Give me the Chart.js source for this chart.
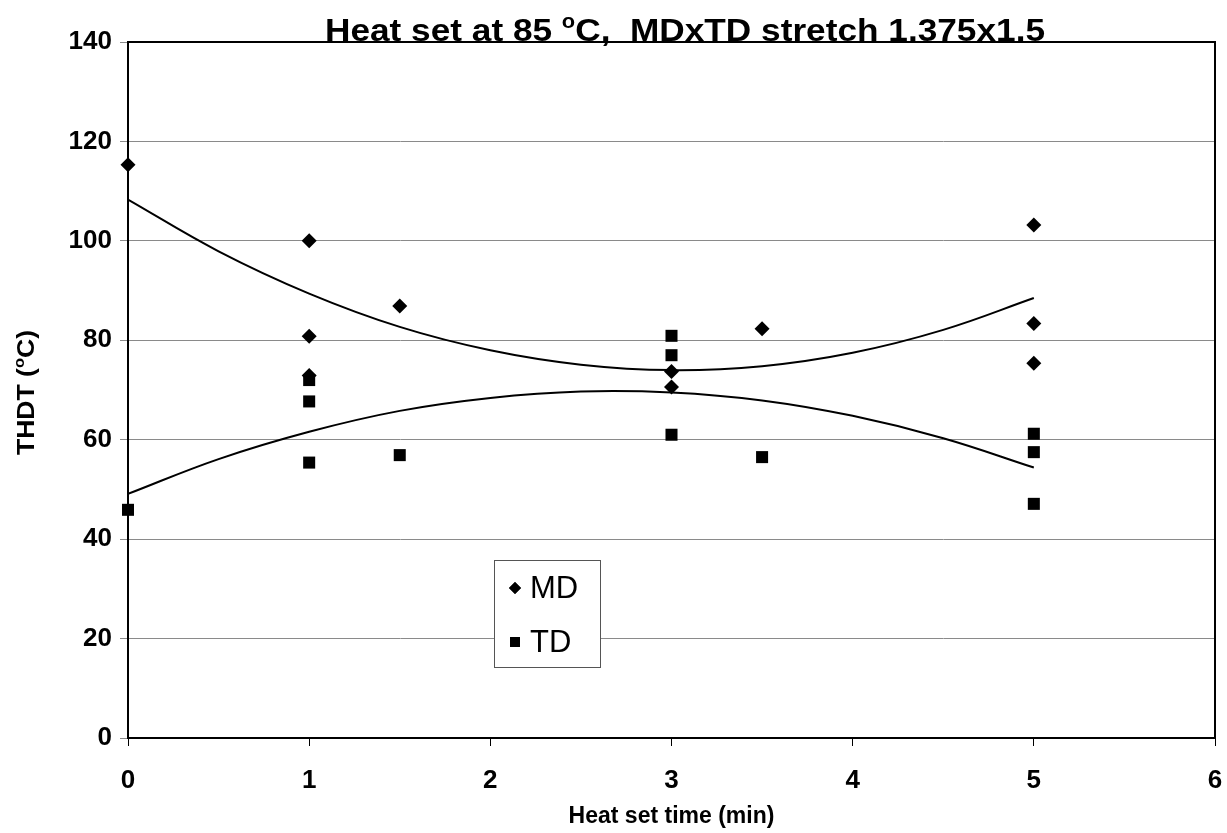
<!DOCTYPE html>
<html>
<head>
<meta charset="utf-8">
<script src="https://cdn.jsdelivr.net/npm/chart.js@4.4.1/dist/chart.umd.min.js"></script>
<style>
  body { margin: 0; background: #fff; }
  canvas { display: block; }
</style>
</head>
<body>
<canvas id="chart" width="1227" height="833"></canvas>
<script>
// measured points
const mdTime = [0, 1, 1, 1, 1.5, 3, 3, 3.5, 5, 5, 5];
const mdTHDT = [115.3, 100, 80.8, 72.9, 86.9, 73.7, 70.6, 82.3, 103.2, 83.4, 75.4];
const tdTime = [0, 1, 1, 1, 1.5, 3, 3, 3, 3.5, 5, 5, 5];
const tdTHDT = [45.9, 72, 67.7, 55.4, 56.9, 80.9, 77, 61, 56.5, 61.2, 57.5, 47.1];

// trend curves
const trendTime = [0, 0.5, 1, 1.5, 2, 2.5, 3, 3.5, 4, 4.5, 5];
const mdTrend = [108.3, 97.9, 89.4, 82.7, 78.0, 75.1, 74.0, 74.8, 77.5, 82.1, 88.5];
const tdTrend = [49.1, 56.1, 61.6, 65.8, 68.4, 69.7, 69.5, 67.9, 64.8, 60.3, 54.4];

const xTicks = [0, 1, 2, 3, 4, 5, 6];
const yTicks = [0, 20, 40, 60, 80, 100, 120, 140];

const FONT = '"Liberation Sans", Arial, sans-serif';

const toXY = (xs, ys) => xs.map((x, i) => ({ x: x, y: ys[i] }));

// text with a raised small "o" for the degree sign
function measureParts(ctx, parts, size) {
  let w = 0;
  parts.forEach(p => {
    ctx.font = 'bold ' + (p.sup ? size * 0.62 : size) + 'px ' + FONT;
    p.w = ctx.measureText(p.t).width;
    w += p.w;
  });
  return w;
}
function fillParts(ctx, parts, x, y, size) {
  parts.forEach(p => {
    ctx.font = 'bold ' + (p.sup ? size * 0.62 : size) + 'px ' + FONT;
    ctx.fillText(p.t, x, p.sup ? y - size * 0.42 : y);
    x += p.w;
  });
}

const extras = {
  id: 'extras',
  afterDraw(chart) {
    const ctx = chart.ctx;
    const a = chart.chartArea;
    ctx.save();
    // frame round the plot
    ctx.strokeStyle = '#000';
    ctx.lineWidth = 2;
    ctx.strokeRect(a.left, a.top, a.right - a.left, a.bottom - a.top);

    ctx.fillStyle = '#000';
    ctx.textAlign = 'left';
    ctx.textBaseline = 'alphabetic';

    // title
    const title = [{ t: 'Heat set at 85 ' }, { t: 'o', sup: true }, { t: 'C,  MDxTD stretch 1.375x1.5' }];
    const tw = measureParts(ctx, title, 32);
    ctx.save();
    ctx.translate(325, 41);
    ctx.scale(720 / tw, 1);
    fillParts(ctx, title, 0, 0, 32);
    ctx.restore();

    // y axis title
    const ytitle = [{ t: 'THDT (' }, { t: 'o', sup: true }, { t: 'C)' }];
    const yw = measureParts(ctx, ytitle, 24);
    ctx.save();
    ctx.translate(34, 455);
    ctx.rotate(-Math.PI / 2);
    ctx.scale(125 / yw, 1);
    fillParts(ctx, ytitle, 0, 0, 24);
    ctx.restore();

    // legend box
    const lx = 494, ly = 560, lw = 106, lh = 107;
    ctx.fillStyle = '#fff';
    ctx.fillRect(lx, ly, lw, lh);
    ctx.strokeStyle = '#555';
    ctx.lineWidth = 1;
    ctx.strokeRect(lx + 0.5, ly + 0.5, lw, lh);
    ctx.fillStyle = '#000';
    ctx.textBaseline = 'middle';
    ctx.font = '31px ' + FONT;
    const items = chart.data.datasets.filter(d => d.inLegend);
    items.forEach((d, i) => {
      const cy = ly + 28 + i * 54;
      Chart.helpers.drawPoint(ctx, { pointStyle: d.pointStyle, radius: d.pointStyle === 'rect' ? 7 : 6, borderWidth: 0 }, lx + 21, cy);
      ctx.fill();
      ctx.fillText(d.label, lx + 36, cy + 1);
    });
    ctx.restore();
  }
};

new Chart(document.getElementById('chart'), {
  type: 'scatter',
  data: {
    datasets: [
      {
        label: 'MD',
        inLegend: true,
        data: toXY(mdTime, mdTHDT),
        pointStyle: 'rectRot',
        pointRadius: 7.5,
        backgroundColor: '#000',
        borderColor: '#000',
        borderWidth: 0,
        clip: false
      },
      {
        label: 'TD',
        inLegend: true,
        data: toXY(tdTime, tdTHDT),
        pointStyle: 'rect',
        pointRadius: 8.5,
        backgroundColor: '#000',
        borderColor: '#000',
        borderWidth: 0,
        clip: false
      },
      {
        label: 'MD trend',
        data: toXY(trendTime, mdTrend),
        showLine: true,
        pointRadius: 0,
        borderColor: '#000',
        borderWidth: 2,
        tension: 0.4
      },
      {
        label: 'TD trend',
        data: toXY(trendTime, tdTrend),
        showLine: true,
        pointRadius: 0,
        borderColor: '#000',
        borderWidth: 2,
        tension: 0.4
      }
    ]
  },
  options: {
    responsive: false,
    animation: false,
    layout: { padding: { top: 42, right: 12, left: 0, bottom: 0 } },
    plugins: {
      legend: { display: false },
      tooltip: { enabled: false }
    },
    scales: {
      x: {
        min: 0,
        max: 6,
        afterBuildTicks: s => { s.ticks = xTicks.map(v => ({ value: v })); },
        afterFit: s => { s.height = 95; s.paddingLeft = 0; s.paddingRight = 0; },
        grid: { drawOnChartArea: false, drawTicks: true, tickLength: 8, color: '#000' },
        border: { color: '#000', width: 2 },
        ticks: { color: '#000', padding: 19, font: { family: FONT, size: 26, weight: 'bold' } },
        title: {
          display: true,
          text: 'Heat set time (min)',
          color: '#000',
          padding: { top: 0, bottom: 3 },
          font: { family: FONT, size: 23, weight: 'bold' }
        }
      },
      y: {
        min: 0,
        max: 140,
        afterBuildTicks: s => { s.ticks = yTicks.map(v => ({ value: v })); },
        afterFit: s => { s.width = 128; s.paddingTop = 0; s.paddingBottom = 0; },
        grid: { color: '#8a8a8a', lineWidth: 1, tickLength: 8 },
        border: { color: '#000', width: 2 },
        ticks: { color: '#000', padding: 8, font: { family: FONT, size: 26, weight: 'bold' } }
      }
    }
  },
  plugins: [extras]
});
</script>
</body>
</html>
